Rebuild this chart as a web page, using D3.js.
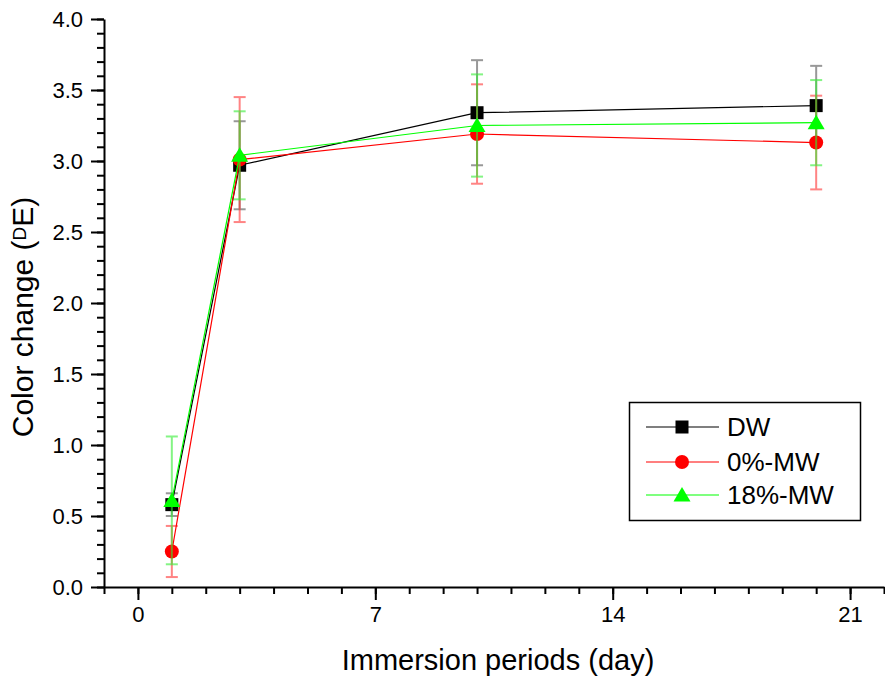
<!DOCTYPE html>
<html>
<head>
<meta charset="utf-8">
<script src="https://cdn.jsdelivr.net/npm/d3@7"></script>
<style>
  body { margin: 0; background: #fff; }
  svg { font-family: Arial, "Liberation Sans", sans-serif; }
  .tick text { font-size: 22px; fill: #000; }
</style>
</head>
<body>
<div class="chart"></div>
<script>
// immersion days
var days = [1, 3, 10, 20];

// mean colour change and error per group
var dwValues = [0.58, 2.97, 3.34, 3.39];
var dwErrors = [0.08, 0.31, 0.37, 0.28];
var mw0Values = [0.25, 3.01, 3.19, 3.13];
var mw0Errors = [0.18, 0.44, 0.35, 0.33];
var mw18Values = [0.61, 3.04, 3.25, 3.27];
var mw18Errors = [0.45, 0.31, 0.36, 0.30];

var seriesNames = ["DW", "0%-MW", "18%-MW"];
var xTicks = [0, 7, 14, 21];
var yTicks = [0, 0.5, 1, 1.5, 2, 2.5, 3, 3.5, 4];

(function() {
var width = 885, height = 679;
var plotLeft = 104, plotRight = 884, plotTop = 19, plotBottom = 587;

var svg = d3.select(".chart").append("svg")
  .attr("width", width)
  .attr("height", height);

var x = d3.scaleLinear().domain([-1, 22]).range([plotLeft, plotRight]);
var y = d3.scaleLinear().domain([0, 4]).range([plotBottom, plotTop]);

// minor ticks first
svg.append("g")
  .attr("transform", "translate(0," + plotBottom + ")")
  .call(d3.axisBottom(x).tickValues(d3.range(-1, 23)).tickSize(7).tickFormat(""))
  .call(function(g) { g.select(".domain").remove(); })
  .selectAll("line").attr("stroke-width", 2);

svg.append("g")
  .attr("transform", "translate(" + plotLeft + ",0)")
  .call(d3.axisLeft(y).tickValues(d3.range(0, 41).map(function(d) { return d / 10; })).tickSize(7).tickFormat(""))
  .call(function(g) { g.select(".domain").remove(); })
  .selectAll("line").attr("stroke-width", 2);

var xAxis = svg.append("g")
  .attr("transform", "translate(0," + plotBottom + ")")
  .call(d3.axisBottom(x).tickValues(xTicks).tickSize(13).tickSizeOuter(0).tickPadding(6))
  .attr("font-size", 22)
  .attr("font-family", "Arial, 'Liberation Sans', sans-serif");
xAxis.select(".domain").attr("stroke-width", 2);
xAxis.selectAll("line").attr("stroke-width", 2);

var yAxis = svg.append("g")
  .attr("transform", "translate(" + plotLeft + ",0)")
  .call(d3.axisLeft(y).tickValues(yTicks).tickSize(13).tickSizeOuter(0).tickPadding(8).tickFormat(d3.format(".1f")))
  .attr("font-size", 22)
  .attr("font-family", "Arial, 'Liberation Sans', sans-serif");
yAxis.select(".domain").attr("stroke-width", 2);
yAxis.selectAll("line").attr("stroke-width", 2);

// axis titles
svg.append("text")
  .attr("x", (plotLeft + plotRight) / 2 + 4)
  .attr("y", 670)
  .attr("text-anchor", "middle")
  .attr("font-size", 29)
  .text("Immersion periods (day)");

var yTitle = svg.append("text")
  .attr("transform", "translate(33,317) rotate(-90)")
  .attr("text-anchor", "middle")
  .attr("font-size", 30);
yTitle.append("tspan").text("Color change (");
yTitle.append("tspan").attr("font-size", 19).attr("dy", -7).text("D");
yTitle.append("tspan").attr("dy", 7).text("E)");

var series = [
  { name: seriesNames[0], values: dwValues, errors: dwErrors, color: "#000000", errColor: "#555555", shape: "square" },
  { name: seriesNames[1], values: mw0Values, errors: mw0Errors, color: "#ff0000", errColor: "#ff3333", shape: "circle" },
  { name: seriesNames[2], values: mw18Values, errors: mw18Errors, color: "#00ff00", errColor: "#33ee33", shape: "triangle" }
];

function marker(sel, shape, color) {
  if (shape === "square") {
    sel.append("rect").attr("x", -6.5).attr("y", -6.5).attr("width", 13).attr("height", 13).attr("fill", color);
  } else if (shape === "circle") {
    sel.append("circle").attr("r", 7).attr("fill", color);
  } else {
    sel.append("path").attr("d", "M0,-8L8.5,6.5L-8.5,6.5Z").attr("fill", color);
  }
}

var line = d3.line()
  .x(function(d) { return x(d.day); })
  .y(function(d) { return y(d.value); });

series.forEach(function(s) {
  var pts = days.map(function(d, i) { return { day: d, value: s.values[i], err: s.errors[i] }; });
  var g = svg.append("g");

  var bars = g.selectAll(".err").data(pts).enter().append("g")
    .attr("stroke", s.errColor)
    .attr("stroke-width", 2)
    .attr("opacity", 0.6);
  bars.append("line")
    .attr("x1", function(d) { return x(d.day); })
    .attr("x2", function(d) { return x(d.day); })
    .attr("y1", function(d) { return y(d.value + d.err); })
    .attr("y2", function(d) { return y(d.value - d.err); });
  bars.append("line")
    .attr("x1", function(d) { return x(d.day) - 6; })
    .attr("x2", function(d) { return x(d.day) + 6; })
    .attr("y1", function(d) { return y(d.value + d.err); })
    .attr("y2", function(d) { return y(d.value + d.err); });
  bars.append("line")
    .attr("x1", function(d) { return x(d.day) - 6; })
    .attr("x2", function(d) { return x(d.day) + 6; })
    .attr("y1", function(d) { return y(d.value - d.err); })
    .attr("y2", function(d) { return y(d.value - d.err); });

  g.append("path")
    .datum(pts)
    .attr("d", line)
    .attr("fill", "none")
    .attr("stroke", s.color)
    .attr("stroke-width", 1.2);

  g.selectAll(".pt").data(pts).enter().append("g")
    .attr("transform", function(d) { return "translate(" + x(d.day) + "," + y(d.value) + ")"; })
    .each(function() { marker(d3.select(this), s.shape, s.color); });
});

// legend
var legend = svg.append("g");
legend.append("rect")
  .attr("x", 629.5).attr("y", 402.5)
  .attr("width", 231).attr("height", 118)
  .attr("fill", "#fff")
  .attr("stroke", "#000")
  .attr("stroke-width", 1.5);

var rows = [427, 462, 495];
series.forEach(function(s, i) {
  var row = legend.append("g").attr("transform", "translate(0," + rows[i] + ")");
  row.append("line").attr("x1", 646).attr("x2", 719).attr("stroke", s.color).attr("stroke-width", 1.2);
  marker(row.append("g").attr("transform", "translate(682,0)"), s.shape, s.color);
  row.append("text").attr("x", 727).attr("y", 9).attr("font-size", 26).text(s.name);
});
})();
</script>
</body>
</html>
